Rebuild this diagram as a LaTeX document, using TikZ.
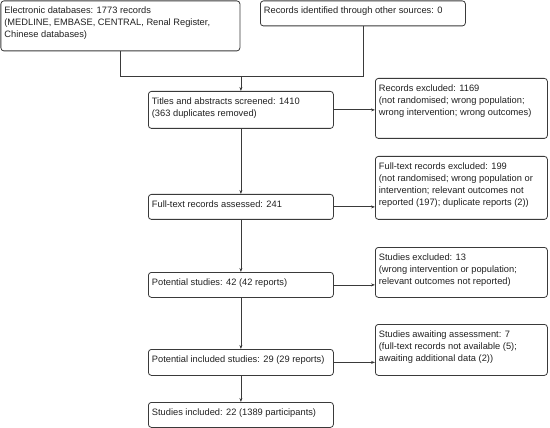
\documentclass[tikz,border=0pt]{standalone}
\usepackage{fontspec}
\setmainfont{Liberation Sans}
\usetikzlibrary{arrows.meta}
\definecolor{lncol}{HTML}{3A3A3A}
\definecolor{txtcol}{HTML}{202020}
\newcommand{\bxt}[3]{\parbox[c][#2pt][t]{#1pt}{\raggedright\rule{0pt}{10pt}#3}}
\tikzset{
  boxnode/.style={draw=lncol, line width=0.8pt, rounded corners=3pt, inner xsep=3.5pt, inner ysep=3pt, anchor=north west, text=txtcol, font=\fontsize{9.3}{12}\selectfont},
  conn/.style={draw=lncol, line width=0.8pt},
  arr/.style={conn, -{Stealth[length=4pt,width=3pt]}}
}
\begin{document}
\begin{tikzpicture}[x=1pt,y=-1pt]
\useasboundingbox (0,0) rectangle (550,428);
\node[boxnode] (b1) at (0.5,0.5) {\bxt{232}{44}{Electronic databases: 1773 records\\(MEDLINE, EMBASE, CENTRAL, Renal Register,\\Chinese databases)}};
\node[boxnode] (b2) at (260,0.5) {\bxt{198}{19}{Records identified through other sources: 0}};
\node[boxnode] (b3) at (148,91) {\bxt{178}{31}{Titles and abstracts screened: 1410\\(363 duplicates removed)}};
\node[boxnode] (b4) at (375,78) {\bxt{165}{54}{Records excluded: 1169\\(not randomised; wrong population;\\wrong intervention; wrong outcomes)}};
\node[boxnode] (b5) at (375,156) {\bxt{165}{57}{Full-text records excluded: 199\\(not randomised; wrong population or\\intervention; relevant outcomes not\\reported (197); duplicate reports (2))}};
\node[boxnode] (b6) at (148,194) {\bxt{178}{19}{Full-text records assessed: 241}};
\node[boxnode] (b7) at (375,247) {\bxt{165}{44}{Studies excluded: 13\\(wrong intervention or population;\\relevant outcomes not reported)}};
\node[boxnode] (b8) at (148,272) {\bxt{178}{19}{Potential studies: 42 (42 reports)}};
\node[boxnode] (b9) at (375,324) {\bxt{165}{45}{Studies awaiting assessment: 7\\(full-text records not available (5);\\awaiting additional data (2))}};
\node[boxnode] (b10) at (148,349) {\bxt{178}{20}{Potential included studies: 29 (29 reports)}};
\node[boxnode] (b11) at (148,402) {\bxt{178}{19}{Studies included: 22 (1389 participants)}};
\coordinate (j1) at (b1.south |- 0,76);
\coordinate (j2) at (b2.south |- 0,76);
\coordinate (j3) at (b3.north |- 0,76);
\draw[conn] (b1.south) -- (j1) -- (j2) -- (b2.south);
\draw[arr] (j3) -- (b3.north);
\draw[arr] (b3.east) -- (b3.east -| b4.west);
\draw[arr] (b3.south) -- (b6.north);
\draw[arr] (b6.east) -- (b6.east -| b5.west);
\draw[arr] (b6.south) -- (b8.north);
\draw[arr] (b8.east) -- (b8.east -| b7.west);
\draw[arr] (b8.south) -- (b10.north);
\draw[arr] (b10.east) -- (b10.east -| b9.west);
\draw[arr] (b10.south) -- (b11.north);
\end{tikzpicture}
\end{document}
